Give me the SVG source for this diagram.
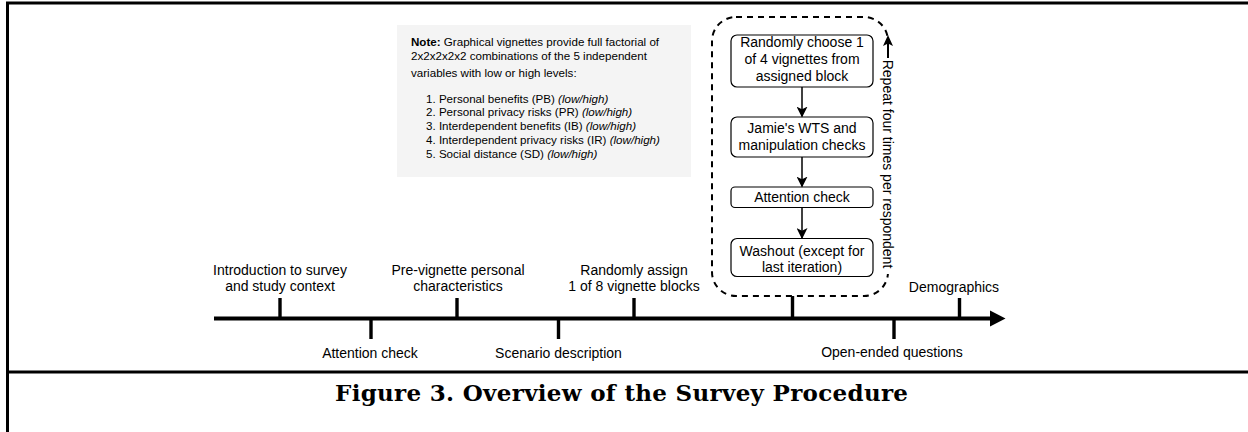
<svg xmlns="http://www.w3.org/2000/svg" width="1248" height="432" viewBox="0 0 1248 432">
<defs>
<style>
.t{font-family:"Liberation Sans",Arial,sans-serif;font-size:14px;fill:#000;text-anchor:middle}
.n{font-family:"Liberation Sans",Arial,sans-serif;font-size:11.6px;fill:#000}
.box{fill:#fff;stroke:#000;stroke-width:1.2}
.tick{stroke:#000;stroke-width:3.4;fill:none}
.ar{stroke:#000;stroke-width:1.5;fill:none;marker-end:url(#ah)}
.title{font-family:"DejaVu Serif","Liberation Serif",Georgia,serif;font-weight:bold;font-size:23px;fill:#000}
</style>
<marker id="ah" viewBox="0 0 10 10" refX="9" refY="5" markerWidth="11" markerHeight="11" markerUnits="userSpaceOnUse" orient="auto">
<path d="M0,0 L10,5 L0,10 L2.5,5 Z" fill="#000"/>
</marker>
</defs>
<rect width="1248" height="432" fill="#fff"/>
<path d="M1248,3 H7.5 V432 M7.5,372 H1248" fill="none" stroke="#000" stroke-width="3"/>

<g id="note">
<rect x="397" y="25" width="294" height="152" fill="#f4f4f4"/>
<text class="n" x="411" y="46"><tspan font-weight="bold">Note:</tspan> Graphical vignettes provide full factorial of</text>
<text class="n" x="411" y="59.5">2x2x2x2x2 combinations of the 5 independent</text>
<text class="n" x="411" y="76.5">variables with low or high levels:</text>
<text class="n" x="426" y="102.5">1. Personal benefits (PB) <tspan font-style="italic">(low/high)</tspan></text>
<text class="n" x="426" y="116">2. Personal privacy risks (PR) <tspan font-style="italic">(low/high)</tspan></text>
<text class="n" x="426" y="129.5">3. Interdependent benefits (IB) <tspan font-style="italic">(low/high)</tspan></text>
<text class="n" x="426" y="143.5">4. Interdependent privacy risks (IR) <tspan font-style="italic">(low/high)</tspan></text>
<text class="n" x="426" y="157.5">5. Social distance (SD) <tspan font-style="italic">(low/high)</tspan></text>
</g>

<g id="loop">
<rect x="712" y="17" width="176" height="279" rx="24" ry="24" fill="none" stroke="#000" stroke-width="2" stroke-dasharray="6 5"/>
<rect x="884" y="46" width="14" height="228" fill="#fff"/>
<line x1="888" y1="58" x2="888" y2="44" stroke="#000" stroke-width="2"/>
<path d="M888,35 L893,46 L888,43.5 L883,46 Z" fill="#000"/>
<text class="t" transform="translate(888,164) rotate(90)" y="5">Repeat four times per respondent</text>
</g>

<g id="box1">
<rect class="box" x="731" y="35" width="142" height="52" rx="6"/>
<text class="t" x="802" y="47">Randomly choose 1</text>
<text class="t" x="802" y="64">of 4 vignettes from</text>
<text class="t" x="802" y="81">assigned block</text>
</g>
<g id="box2">
<rect class="box" x="731" y="117" width="142" height="40" rx="6"/>
<text class="t" x="802" y="132.5">Jamie's WTS and</text>
<text class="t" x="802" y="149.5">manipulation checks</text>
</g>
<g id="box3">
<rect class="box" x="731" y="187" width="142" height="20.5" rx="4"/>
<text class="t" x="802" y="202">Attention check</text>
</g>
<g id="box4">
<rect class="box" x="731" y="238.5" width="142" height="38" rx="6"/>
<text class="t" x="802" y="255.5">Washout (except for</text>
<text class="t" x="802" y="271.5">last iteration)</text>
</g>

<g id="connectors">
<line class="ar" x1="802" y1="87" x2="802" y2="116.5"/>
<line class="ar" x1="802" y1="157" x2="802" y2="186.5"/>
<line class="ar" x1="802" y1="207.5" x2="802" y2="238"/>
</g>

<g id="timeline">
<line x1="214" y1="318.5" x2="992" y2="318.5" stroke="#000" stroke-width="4"/>
<path d="M990,310.5 L1005.5,318.5 L990,326.5 Z" fill="#000"/>
<line class="tick" x1="280" y1="298" x2="280" y2="318"/>
<line class="tick" x1="371" y1="319" x2="371" y2="339"/>
<line class="tick" x1="457" y1="298" x2="457" y2="318"/>
<line class="tick" x1="558.5" y1="319" x2="558.5" y2="339"/>
<line class="tick" x1="634" y1="298" x2="634" y2="318"/>
<line class="tick" x1="792.5" y1="296" x2="792.5" y2="318"/>
<line class="tick" x1="894" y1="319" x2="894" y2="339"/>
<line class="tick" x1="959.5" y1="298" x2="959.5" y2="318"/>
</g>

<g id="lbl-intro">
<text class="t" x="280" y="274.5">Introduction to survey</text>
<text class="t" x="280" y="291">and study context</text>
</g>
<g id="lbl-att"><text class="t" x="370" y="357.5">Attention check</text></g>
<g id="lbl-pre">
<text class="t" x="458" y="274.5">Pre-vignette personal</text>
<text class="t" x="458" y="291">characteristics</text>
</g>
<g id="lbl-scen"><text class="t" x="558.5" y="357.5">Scenario description</text></g>
<g id="lbl-assign">
<text class="t" x="634" y="274.5">Randomly assign</text>
<text class="t" x="634" y="291">1 of 8 vignette blocks</text>
</g>
<g id="lbl-open"><text class="t" x="892" y="357">Open-ended questions</text></g>
<g id="lbl-demo"><text class="t" x="954" y="292">Demographics</text></g>

<text class="title" x="335" y="401" textLength="573" lengthAdjust="spacing">Figure 3. Overview of the Survey Procedure</text>
</svg>
